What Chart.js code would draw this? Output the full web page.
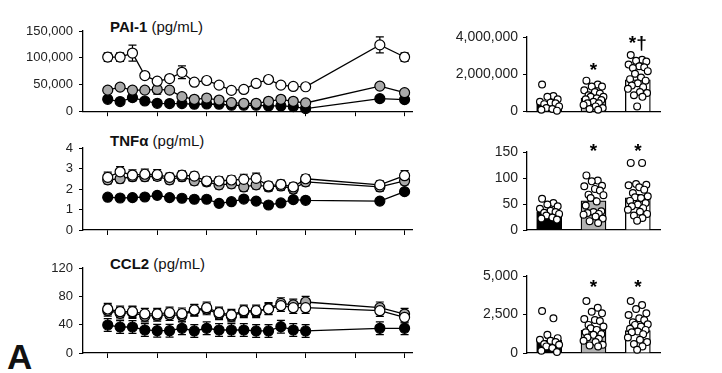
<!DOCTYPE html>
<html>
<head>
<meta charset="utf-8">
<script src="https://cdn.jsdelivr.net/npm/chart.js@4.4.1/dist/chart.umd.min.js"></script>
<style>
  body { margin: 0; background: #fff; width: 722px; height: 373px; position: relative; overflow: hidden;
         font-family: "Liberation Sans", Arial, sans-serif; color: #111; }
  .box { position: absolute; }
  .ttl { position: absolute; left: 110px; font-size: 15px; line-height: 15px; white-space: nowrap; }
  .panel { position: absolute; left: 7px; top: 339px; font-size: 35px; line-height: 35px; font-weight: bold; }
</style>
</head>
<body>
<div class="ttl" style="top:19px"><b>PAI-1</b> (pg/mL)</div>
<div class="ttl" style="top:133px"><b>TNFα</b> (pg/mL)</div>
<div class="ttl" style="top:256px"><b>CCL2</b> (pg/mL)</div>
<div class="panel">A</div>

<script>
// time course (hours) shared by the three left panels
const hours = [0, 1, 2, 3, 4, 5, 6, 7, 8, 9, 10, 11, 12, 13, 14, 15, 16, 22, 24];
const hourTicks = [0, 4, 8, 12, 16, 20, 24];

// PAI-1
const paiWhite = [101300, 101300, 108700, 66700, 56100, 61100, 72800, 54300, 57400, 48700, 38900, 40700, 51900, 59300, 48700, 46300, 45700, 124000, 101300];
const paiGrey  = [39400, 45000, 39400, 39400, 40700, 39400, 27200, 22200, 24600, 20900, 16100, 14800, 14800, 18500, 22200, 18500, 15400, 46900, 34600];
const paiBlack = [22200, 18000, 25400, 19100, 14800, 14300, 14300, 13000, 13500, 13000, 11100, 11100, 11100, 9800, 9800, 8700, 5000, 23500, 21700];
const paiWhiteErr = [8000, 8000, 15000, 5000, 4000, 4000, 12000, 4000, 4000, 4000, 4000, 4000, 4000, 4000, 4000, 4000, 4000, 15000, 8000];
const paiGreyErr  = [5000, 5000, 5000, 5000, 9000, 5000, 4000, 4000, 4000, 4000, 4000, 4000, 4000, 4000, 4000, 4000, 4000, 5000, 4000];
const paiBlackErr = [4000, 3000, 6000, 3000, 3000, 3000, 3000, 3000, 3000, 3000, 3000, 3000, 3000, 3000, 3000, 3000, 3000, 4000, 3000];

// TNFa
const tnfWhite = [2.57, 2.84, 2.68, 2.72, 2.70, 2.57, 2.68, 2.63, 2.39, 2.39, 2.44, 2.47, 2.52, 2.15, 2.23, 2.10, 2.50, 2.20, 2.65];
const tnfGrey  = [2.45, 2.50, 2.60, 2.60, 2.62, 2.45, 2.60, 2.40, 2.35, 2.20, 2.25, 2.10, 2.20, 2.10, 2.15, 2.00, 2.35, 2.10, 2.40];
const tnfBlack = [1.60, 1.56, 1.58, 1.61, 1.69, 1.58, 1.55, 1.50, 1.50, 1.30, 1.38, 1.51, 1.41, 1.22, 1.32, 1.48, 1.45, 1.41, 1.87];
const tnfWhiteErr = [0.25, 0.25, 0.25, 0.25, 0.25, 0.2, 0.2, 0.2, 0.2, 0.2, 0.2, 0.25, 0.25, 0.2, 0.2, 0.2, 0.2, 0.2, 0.25];
const tnfGreyErr  = [0.2, 0.2, 0.2, 0.2, 0.2, 0.2, 0.2, 0.2, 0.2, 0.2, 0.2, 0.2, 0.2, 0.2, 0.2, 0.2, 0.2, 0.2, 0.2];
const tnfBlackErr = [0.08, 0.08, 0.08, 0.08, 0.08, 0.08, 0.08, 0.08, 0.08, 0.08, 0.08, 0.08, 0.08, 0.08, 0.08, 0.1, 0.08, 0.08, 0.12];

// CCL2
const cclWhite = [62.1, 58.3, 58.3, 55.1, 55.1, 56.9, 55.5, 60.7, 64.0, 56.9, 53.7, 59.7, 59.7, 62.1, 66.8, 64.0, 64.0, 59.7, 50.4];
const cclGrey  = [60, 56, 57, 52, 53, 54, 53, 60, 62, 55, 52, 58, 58, 63, 70, 68, 72, 64, 55];
const cclBlack = [39.5, 36.7, 36.7, 32.5, 31.5, 31.5, 34.9, 31.1, 34.9, 32.5, 32.5, 32.5, 31.1, 31.1, 37.1, 32.5, 31.1, 34.9, 34.9];
const cclWhiteErr = [8, 8, 8, 8, 8, 8, 8, 8, 8, 8, 8, 8, 8, 8, 8, 8, 8, 8, 8];
const cclGreyErr  = [8, 8, 8, 8, 8, 8, 8, 8, 8, 8, 8, 8, 8, 8, 8, 8, 8, 8, 8];
const cclBlackErr = [9, 9, 9, 9, 9, 9, 9, 9, 9, 9, 9, 9, 9, 9, 9, 9, 9, 9, 9];

// right panels: group means, SEM and individual values
const paiMeans = [410000, 730000, 1710000];
const paiSem = [90000, 100000, 170000];
const paiDots = [
  [1450000, 840000, 790000, 660000, 530000, 480000, 450000, 400000, 280000, 190000, 140000, 100000, 50000],
  [1660000, 1450000, 1340000, 1340000, 1140000, 1050000, 970000, 880000, 790000, 790000, 710000, 660000, 620000, 530000, 450000, 450000, 360000, 280000, 190000, 140000, 100000],
  [3030000, 2780000, 2720000, 2690000, 2520000, 2430000, 2380000, 2340000, 2170000, 2030000, 1830000, 1740000, 1660000, 1520000, 1400000, 1310000, 1220000, 1050000, 1000000, 880000, 790000, 280000]
];
const paiSig = ['', '*', '*†'];
const paiSigAt = [0, 2390000, 3830000];

const tnfMeans = [35, 56, 62];
const tnfSem = [3, 6, 6];
const tnfDots = [
  [60, 52, 49, 45.5, 41, 37, 34.6, 33, 31, 28, 24, 22, 20],
  [105, 95, 93.6, 85, 84, 79, 76, 68, 67, 61.5, 55, 47, 36, 34.6, 32.7, 31, 29.5, 26, 22, 17, 13.5],
  [129, 129, 88.5, 87, 86, 82, 77.6, 71, 65, 63, 61.5, 56, 52, 49, 45.5, 42, 39, 35, 31, 28, 23, 18]
];
const tnfSig = ['', '*', '*'];
const tnfSigAt = [0, 156, 156];

const cclMeans = [820, 1480, 1450];
const cclSem = [150, 200, 230];
const cclDots = [
  [2725, 2250, 1180, 965, 858, 794, 708, 580, 536, 429, 322, 150, 64],
  [3370, 2940, 2680, 2575, 2210, 2146, 2080, 1824, 1717, 1610, 1500, 1352, 1223, 1180, 1010, 923, 794, 708, 536, 494, 429],
  [3370, 3110, 2854, 2575, 2468, 2253, 2146, 1996, 1867, 1824, 1717, 1567, 1500, 1395, 1352, 1223, 1010, 858, 708, 580, 429, 215]
];
const cclSig = ['', '*', '*'];
const cclSigAt = [0, 4450, 4450];

const seriesFills = ['#ffffff', '#a9a9a9', '#000000'];   // white, grey, black
const barFills = ['#000000', '#b3b3b3', '#ffffff'];
const jitter = [-0.2, 0.12, -0.05, 0.24, -0.26, 0.04, 0.18, -0.14, 0.28, -0.08, 0.09, -0.22,
                0.22, 0.0, -0.17, 0.15, -0.28, 0.06, 0.26, -0.11, 0.13, -0.02, 0.2, -0.24];
const SPREAD = 0.8;

Chart.defaults.font.family = '"Liberation Sans", Arial, sans-serif';
Chart.defaults.color = '#222';

const AXIS_H = 6;

const errorBars = {
  id: 'errorBars',
  beforeDatasetsDraw(chart) {
    const ctx = chart.ctx, y = chart.scales.y;
    chart.data.datasets.forEach((ds, i) => {
      if (!ds.errors) return;
      const meta = chart.getDatasetMeta(i);
      ctx.save();
      ctx.strokeStyle = '#000';
      ctx.lineWidth = 1.2;
      meta.data.forEach((el, j) => {
        const v = ds.data[j].y, e = ds.errors[j];
        const top = y.getPixelForValue(v + e);
        const bot = ds.upOnly ? el.y : y.getPixelForValue(v - e);
        ctx.beginPath();
        ctx.moveTo(el.x, top); ctx.lineTo(el.x, bot);
        ctx.moveTo(el.x - 4, top); ctx.lineTo(el.x + 4, top);
        if (!ds.upOnly) { ctx.moveTo(el.x - 4, bot); ctx.lineTo(el.x + 4, bot); }
        ctx.stroke();
      });
      ctx.restore();
    });
  }
};

const sigMarks = {
  id: 'sigMarks',
  afterDatasetsDraw(chart, args, opts) {
    if (!opts.text) return;
    const {ctx, scales: {x, y}} = chart;
    const size = 19;
    ctx.save();
    ctx.font = 'bold ' + size + 'px "Liberation Sans", Arial, sans-serif';
    ctx.fillStyle = '#000';
    ctx.textAlign = 'center';
    ctx.textBaseline = 'alphabetic';
    opts.text.forEach((t, i) => {
      if (!t) return;
      ctx.fillText(t, x.getPixelForValue(i), y.getPixelForValue(opts.at[i]) + size * 0.45);
    });
    ctx.restore();
  }
};

function makeCanvas(box) {
  const div = document.createElement('div');
  div.className = 'box';
  div.style.left = box.left + 'px';
  div.style.top = box.top + 'px';
  const c = document.createElement('canvas');
  c.width = box.w;
  c.height = box.h;
  div.appendChild(c);
  document.body.appendChild(div);
  return c;
}

function frame(box, area) {
  return {
    padding: {
      top: area.t - box.top,
      bottom: box.top + box.h - area.b - AXIS_H,
      left: 0,
      right: box.left + box.w - area.r
    },
    yWidth: area.l - box.left
  };
}

function yAxis(f, yMax, yStep, fontSize, pad) {
  return {
    min: 0, max: yMax,
    afterFit: s => { s.width = f.yWidth; },
    ticks: { stepSize: yStep, padding: pad, color: '#222', font: { size: fontSize },
             callback: v => v.toLocaleString('en-US') },
    grid: { drawOnChartArea: false, color: '#000', tickLength: 4 },
    border: { color: '#000', width: 1.3 }
  };
}

function lineChart(box, area, values, errors, yMax, yStep) {
  const f = frame(box, area);
  return new Chart(makeCanvas(box), {
    type: 'line',
    data: {
      datasets: values.map((vals, k) => ({
        data: hours.map((h, i) => ({ x: h, y: vals[i] })),
        errors: errors[k],
        borderColor: '#000', borderWidth: 1.3, tension: 0,
        pointRadius: 5, pointBackgroundColor: seriesFills[k],
        pointBorderColor: '#000', pointBorderWidth: 1.2,
        clip: false, order: k
      }))
    },
    options: {
      responsive: false, animation: false, events: [],
      layout: { padding: f.padding },
      plugins: { legend: { display: false }, tooltip: { enabled: false } },
      scales: {
        x: {
          type: 'linear', min: -2, max: 24.6,
          afterBuildTicks: s => { s.ticks = hourTicks.map(v => ({ value: v })); },
          afterFit: s => { s.height = AXIS_H; },
          ticks: { display: false },
          grid: { drawOnChartArea: false, color: '#000', tickLength: 5 },
          border: { color: '#000', width: 1.3 }
        },
        y: yAxis(f, yMax, yStep, 13, 6)
      }
    },
    plugins: [errorBars]
  });
}

function dotChart(box, area, means, sem, dots, yMax, yStep, sig, sigAt) {
  const f = frame(box, area);
  const pts = [];
  dots.forEach((vals, g) => vals.forEach((v, i) => pts.push({ x: g + SPREAD * jitter[i % jitter.length], y: v })));
  return new Chart(makeCanvas(box), {
    type: 'bar',
    data: {
      datasets: [
        { type: 'scatter', data: pts, pointRadius: 3.4, pointBackgroundColor: '#fff',
          pointBorderColor: '#000', pointBorderWidth: 1.2, clip: false, order: 0 },
        { type: 'bar', data: means.map((m, g) => ({ x: g, y: m })), errors: sem, upOnly: true,
          backgroundColor: barFills, borderColor: '#000', borderWidth: 1.3,
          barThickness: 25, order: 1 }
      ]
    },
    options: {
      responsive: false, animation: false, events: [],
      layout: { padding: f.padding },
      plugins: { legend: { display: false }, tooltip: { enabled: false },
                 sigMarks: { text: sig, at: sigAt } },
      scales: {
        x: {
          type: 'linear', min: -0.5, max: 2.5, offset: false,
          afterFit: s => { s.height = AXIS_H; },
          ticks: { display: false },
          grid: { display: false, drawTicks: false, offset: false },
          border: { color: '#000', width: 1.3 }
        },
        y: yAxis(f, yMax, yStep, 14, 5)
      }
    },
    plugins: [errorBars, sigMarks]
  });
}

lineChart({ left: 0, top: 0, w: 420, h: 125 }, { l: 83, r: 412, t: 31, b: 112 },
  [paiWhite, paiGrey, paiBlack], [paiWhiteErr, paiGreyErr, paiBlackErr], 150000, 50000);
lineChart({ left: 0, top: 125, w: 420, h: 120 }, { l: 83, r: 412, t: 148, b: 230 },
  [tnfWhite, tnfGrey, tnfBlack], [tnfWhiteErr, tnfGreyErr, tnfBlackErr], 4, 1);
lineChart({ left: 0, top: 245, w: 420, h: 128 }, { l: 83, r: 412, t: 268, b: 353 },
  [cclWhite, cclGrey, cclBlack], [cclWhiteErr, cclGreyErr, cclBlackErr], 120, 40);

dotChart({ left: 430, top: 0, w: 292, h: 125 }, { l: 527, r: 660, t: 37, b: 115 },
  paiMeans, paiSem, paiDots, 4000000, 2000000, paiSig, paiSigAt);
dotChart({ left: 430, top: 125, w: 292, h: 120 }, { l: 527, r: 660, t: 152, b: 230 },
  tnfMeans, tnfSem, tnfDots, 150, 50, tnfSig, tnfSigAt);
dotChart({ left: 430, top: 245, w: 292, h: 128 }, { l: 527, r: 660, t: 276, b: 353 },
  cclMeans, cclSem, cclDots, 5000, 2500, cclSig, cclSigAt);
</script>
</body>
</html>
